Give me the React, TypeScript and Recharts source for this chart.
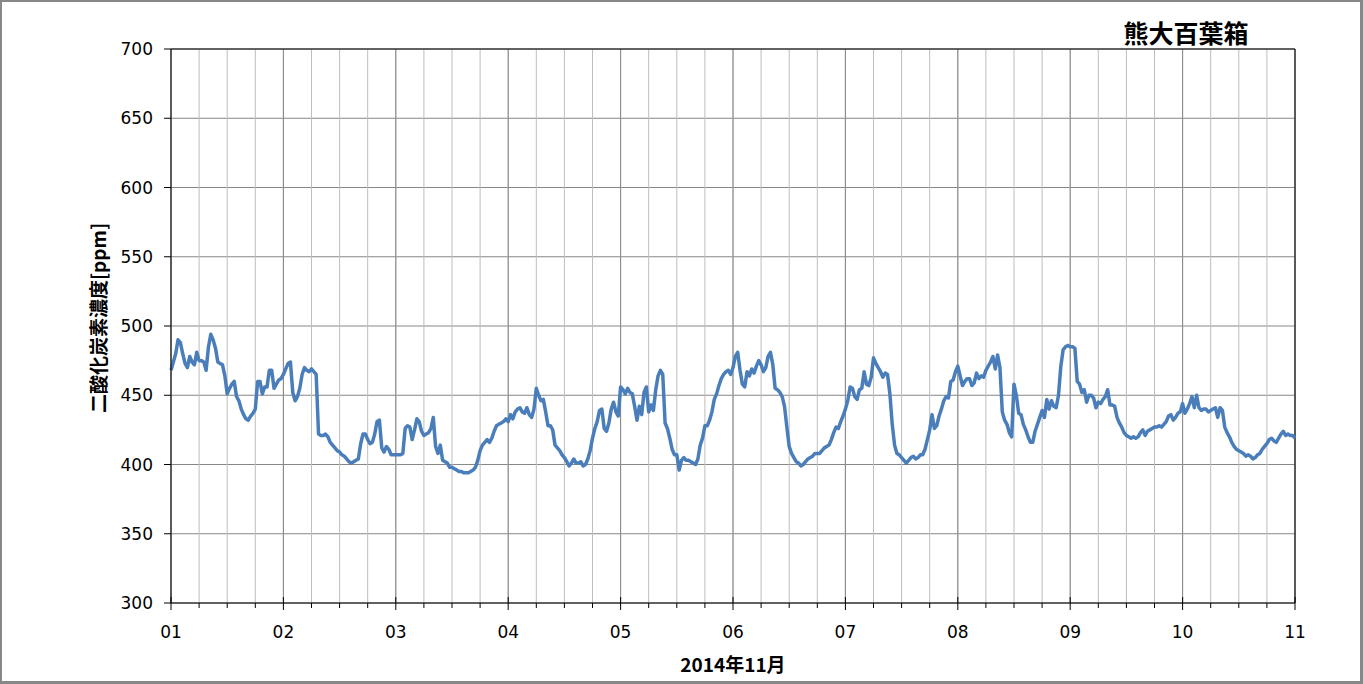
import React from "react";
import {
  LineChart,
  Line,
  XAxis,
  YAxis,
  CartesianGrid,
  ReferenceLine,
  Label,
} from "recharts";

// half-hourly CO2 readings [ppm], 2014-11-01 00:00 onward, one array per day
const day01 = [468, 474, 480, 490, 488, 480, 473, 470, 478, 474, 472, 481, 475, 475, 474, 468, 485, 494, 490, 484, 474, 473, 472, 464, 451, 455, 458, 460, 449, 446, 440, 436, 433, 432, 435, 437, 440, 460, 460, 451, 456, 456, 468, 468, 455, 458, 461, 462];
const day02 = [465, 469, 473, 474, 452, 446, 449, 455, 465, 470, 468, 467, 469, 467, 465, 422, 421, 421, 422, 420, 416, 414, 412, 410, 409, 407, 406, 404, 402, 401, 402, 403, 404, 415, 422, 422, 418, 415, 416, 422, 431, 432, 412, 409, 413, 411, 407, 407];
const day03 = [407, 407, 407, 408, 426, 428, 427, 418, 425, 433, 431, 424, 421, 422, 423, 426, 434, 413, 408, 414, 403, 402, 401, 398, 398, 397, 396, 395, 395, 394, 394, 394, 395, 396, 398, 403, 410, 414, 416, 418, 416, 419, 424, 428, 429, 430, 431, 433];
const day04 = [431, 436, 433, 438, 440, 441, 438, 437, 441, 436, 434, 440, 455, 450, 446, 447, 438, 428, 428, 425, 414, 412, 410, 407, 405, 402, 399, 401, 404, 401, 401, 402, 399, 400, 404, 410, 419, 426, 431, 439, 440, 426, 424, 430, 440, 445, 438, 435];
const day05 = [456, 454, 451, 455, 452, 451, 442, 432, 442, 436, 452, 456, 438, 443, 439, 454, 464, 468, 465, 430, 426, 419, 411, 407, 407, 396, 403, 405, 403, 403, 402, 401, 400, 404, 414, 419, 428, 428, 432, 438, 447, 451, 457, 462, 465, 467, 468, 465];
const day06 = [470, 478, 481, 468, 458, 456, 467, 464, 469, 466, 471, 475, 472, 467, 470, 478, 481, 472, 455, 454, 452, 449, 442, 427, 413, 408, 405, 402, 401, 399, 400, 402, 404, 405, 406, 408, 408, 408, 410, 412, 413, 414, 418, 423, 427, 426, 431, 435];
const day07 = [440, 446, 456, 455, 449, 447, 454, 455, 467, 458, 457, 463, 477, 473, 470, 467, 463, 466, 465, 451, 429, 414, 408, 407, 405, 403, 401, 403, 405, 406, 404, 405, 407, 407, 411, 418, 425, 436, 426, 428, 435, 440, 446, 449, 448, 460, 461, 467];
const day08 = [471, 464, 457, 460, 462, 462, 457, 459, 466, 462, 464, 463, 468, 471, 474, 478, 469, 479, 470, 438, 432, 429, 423, 420, 458, 450, 437, 436, 429, 425, 420, 416, 416, 424, 429, 434, 439, 434, 447, 440, 446, 442, 441, 450, 471, 483, 485, 486];
const day09 = [485, 485, 484, 460, 458, 452, 454, 445, 450, 450, 448, 441, 445, 444, 447, 449, 454, 443, 443, 442, 434, 430, 427, 423, 421, 420, 419, 420, 419, 420, 423, 425, 421, 424, 425, 426, 427, 427, 428, 427, 429, 431, 435, 436, 432, 434, 437, 438];
const day10 = [444, 437, 440, 444, 449, 441, 450, 441, 439, 440, 440, 438, 439, 440, 441, 434, 441, 439, 427, 423, 420, 416, 413, 411, 410, 409, 408, 406, 407, 406, 404, 405, 407, 408, 411, 413, 415, 418, 419, 417, 416, 419, 422, 424, 421, 422, 421, 421];
const day11 = [419];

const dayLabels = ["01", "02", "03", "04", "05", "06", "07", "08", "09", "10", "11"];
const yTicks = [300, 350, 400, 450, 500, 550, 600, 650, 700];
const hourTicks = Array.from({ length: 41 }, (_, i) => i * 6);
const dayStarts = dayLabels.map((_, i) => i * 24);

const data = [day01, day02, day03, day04, day05, day06, day07, day08, day09, day10, day11]
  .flat()
  .map((v, i) => ({ t: i / 2, co2: v }));

const tickFont = "'DejaVu Sans', sans-serif";
const cjkFont = "'Noto Sans CJK JP', sans-serif";

function HourTick(props: any) {
  const { x, y, payload } = props;
  const t = payload.value;
  const major = t % 24 === 0;
  return (
    <g>
      <line x1={x} x2={x} y1={major ? y - 6 : y} y2={y + (major ? 7 : 5)} stroke="#000" strokeWidth={1} />
      {major && (
        <text x={x} y={y + 35} textAnchor="middle" fill="#000" fontSize={17} fontFamily={tickFont}>
          {dayLabels[t / 24]}
        </text>
      )}
    </g>
  );
}

export default function App() {
  return (
    <div style={{ position: "absolute", left: 0, top: 0, width: 1363, height: 684, background: "#fff" }}>
      <LineChart width={1363} height={684} data={data} margin={{ top: 49, right: 68, bottom: 0, left: 0 }}>
        <CartesianGrid horizontal={true} vertical={false} stroke="#878787" />
        <CartesianGrid horizontal={false} vertical={true} stroke="#bdbdbd" />
        {dayStarts.map((d) => (
          <ReferenceLine key={d} x={d} stroke="#878787" />
        ))}
        <ReferenceLine y={700} stroke="#000" />
        <ReferenceLine x={240} stroke="#000" />
        <XAxis
          dataKey="t"
          type="number"
          domain={[0, 240]}
          ticks={hourTicks}
          interval={0}
          height={81}
          tickSize={0}
          tickMargin={0}
          tickLine={false}
          axisLine={{ stroke: "#000" }}
          tick={<HourTick />}
        >
          <Label
            value="2014年11月"
            position="center"
            dy={22}
            style={{ fontFamily: cjkFont, fontWeight: 700, fontSize: 19, fill: "#000" }}
          />
        </XAxis>
        <YAxis
          type="number"
          domain={[300, 700]}
          ticks={yTicks}
          interval={0}
          width={171}
          tickSize={7}
          tickMargin={11}
          axisLine={{ stroke: "#000" }}
          tickLine={{ stroke: "#000" }}
          tick={{ fill: "#000", fontSize: 17, fontFamily: tickFont }}
        >
          <Label
            value="二酸化炭素濃度[ppm]"
            angle={-90}
            position="center"
            dx={14}
            dy={-8}
            style={{ fontFamily: cjkFont, fontWeight: 700, fontSize: 19, fill: "#000", textAnchor: "middle" }}
          />
        </YAxis>
        <Line
          type="linear"
          dataKey="co2"
          stroke="#4a7ebb"
          strokeWidth={3.5}
          strokeLinejoin="round"
          dot={false}
          isAnimationActive={false}
        />
      </LineChart>
      <div
        style={{
          position: "absolute",
          left: 1100,
          top: 16,
          width: 172,
          textAlign: "center",
          fontFamily: cjkFont,
          fontWeight: 700,
          fontSize: 25,
          lineHeight: "32px",
          color: "#000",
        }}
      >
        熊大百葉箱
      </div>
      <div
        style={{
          position: "absolute",
          left: 0,
          top: 0,
          width: 1363,
          height: 684,
          boxSizing: "border-box",
          borderStyle: "solid",
          borderColor: "#878787",
          borderWidth: "2px 3px 3px 2px",
          pointerEvents: "none",
        }}
      />
    </div>
  );
}
